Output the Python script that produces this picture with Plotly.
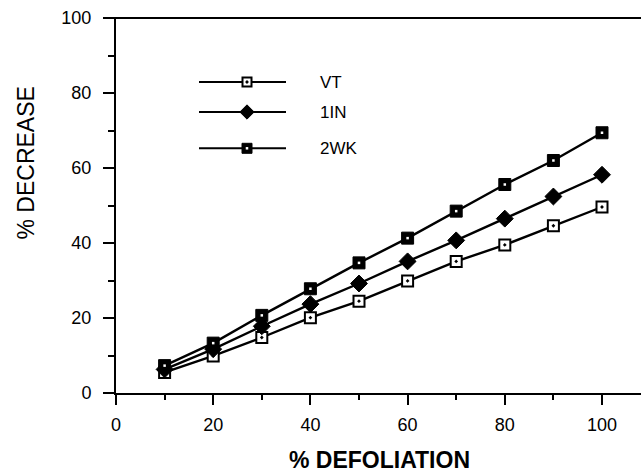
import plotly.graph_objects as go

# ---- data ----
defoliation = [10, 20, 30, 40, 50, 60, 70, 80, 90, 100]
vt = [5.5, 9.9, 14.8, 20.1, 24.5, 29.9, 35.1, 39.5, 44.6, 49.6]
in1 = [6.3, 11.7, 17.8, 23.7, 29.2, 35.1, 40.7, 46.5, 52.4, 58.2]
wk2 = [7.3, 13.3, 20.7, 27.8, 34.7, 41.3, 48.5, 55.6, 62.0, 69.4]
series_names = ["VT", "1IN", "2WK"]
x_ticks = [0, 20, 40, 60, 80, 100]
y_ticks = [0, 20, 40, 60, 80, 100]

FONT = "Liberation Sans, Arial, sans-serif"
BLACK = "black"
FIG_W = 660
L_MARGIN = 116
PX_PER_UNIT = 4.86
X_MAX = (FIG_W - L_MARGIN) / PX_PER_UNIT


def px_to_paper_x(px):
    return (px - L_MARGIN) / (FIG_W - L_MARGIN)


fig = go.Figure()

styles = {
    "VT": dict(symbol="square-dot", size=11, color="white", line=dict(color=BLACK, width=2)),
    "1IN": dict(symbol="diamond", size=13, color=BLACK, line=dict(color=BLACK, width=1)),
    "2WK": dict(symbol="square", size=12, color=BLACK, line=dict(color=BLACK, width=1)),
}
values = {"VT": vt, "1IN": in1, "2WK": wk2}

for name in ["VT", "1IN", "2WK"]:
    fig.add_trace(go.Scatter(
        x=defoliation, y=values[name], mode="lines+markers", name=name,
        line=dict(color=BLACK, width=2.4), marker=styles[name], showlegend=False,
        cliponaxis=False,
    ))
# white centre dot of 2WK markers
fig.add_trace(go.Scatter(
    x=defoliation, y=wk2, mode="markers", showlegend=False,
    marker=dict(symbol="square", size=2.5, color="white", line=dict(width=0)),
))

# ---- hand-made legend (positions in screen pixels) ----
leg_rows_px = [81.7, 111.7, 148.0]
leg_line_px = (199, 286)
leg_mark_px = 247
leg_text_px = 318
for name, ypx in zip(series_names, leg_rows_px):
    ly = (392.7 - ypx) / 3.75
    fig.add_trace(go.Scatter(
        x=[(leg_line_px[0] - L_MARGIN) / PX_PER_UNIT, (leg_line_px[1] - L_MARGIN) / PX_PER_UNIT],
        y=[ly, ly], mode="lines",
        line=dict(color=BLACK, width=2), showlegend=False, hoverinfo="skip",
    ))
    m = dict(styles[name])
    m["size"] = m["size"] - 2
    mx = (leg_mark_px - L_MARGIN) / PX_PER_UNIT
    fig.add_trace(go.Scatter(x=[mx], y=[ly], mode="markers",
                             marker=m, showlegend=False, hoverinfo="skip"))
    if name == "2WK":
        fig.add_trace(go.Scatter(
            x=[mx], y=[ly], mode="markers",
            marker=dict(symbol="square", size=2.5, color="white", line=dict(width=0)),
            showlegend=False, hoverinfo="skip",
        ))
    fig.add_annotation(x=px_to_paper_x(leg_text_px), y=ly, xref="paper", yref="y", text=name,
                       showarrow=False, xanchor="left", yanchor="middle",
                       font=dict(family=FONT, size=17, color=BLACK))

# axis titles
fig.add_annotation(x=px_to_paper_x(379), y=-0.179, xref="paper", yref="paper", text="% DEFOLIATION",
                   showarrow=False, xanchor="center", yanchor="middle",
                   font=dict(family=FONT, size=23, color=BLACK, weight="bold"))
fig.add_annotation(x=px_to_paper_x(25), y=0.612, xref="paper", yref="paper", text="% DECREASE",
                   showarrow=False, xanchor="center", yanchor="middle", textangle=-90,
                   font=dict(family=FONT, size=23, color=BLACK))

# top frame line
fig.add_shape(type="line", xref="paper", yref="paper", x0=px_to_paper_x(104), x1=1.0, y0=1, y1=1,
              line=dict(color=BLACK, width=2))

fig.update_layout(
    width=FIG_W, height=473,
    margin=dict(l=L_MARGIN, r=0, t=18, b=80),
    paper_bgcolor="white", plot_bgcolor="white",
    font=dict(family=FONT, color=BLACK),
    xaxis=dict(
        range=[0, X_MAX], tickvals=x_ticks, ticktext=[str(v) for v in x_ticks],
        showgrid=False, zeroline=False, showline=True, linecolor=BLACK, linewidth=2,
        mirror=False, ticks="outside", ticklen=10, tickwidth=2, tickcolor=BLACK,
        tickfont=dict(family=FONT, size=18), ticklabelstandoff=4,
        minor=dict(dtick=10, tick0=0, ticks="outside", ticklen=5, tickwidth=2, tickcolor=BLACK, showgrid=False),
    ),
    yaxis=dict(
        range=[0, 100], tickvals=y_ticks, ticktext=[str(v) for v in y_ticks],
        showgrid=False, zeroline=False, showline=True, linecolor=BLACK, linewidth=2,
        ticks="outside", ticklen=11, tickwidth=2, tickcolor=BLACK,
        tickfont=dict(family=FONT, size=18), ticklabelstandoff=8,
        minor=dict(dtick=10, tick0=0, ticks="outside", ticklen=6, tickwidth=2, tickcolor=BLACK, showgrid=False),
    ),
)

fig.write_html("out.html", config={"displayModeBar": False},
               post_script="document.body.style.margin='0';document.body.style.overflow='hidden';")
